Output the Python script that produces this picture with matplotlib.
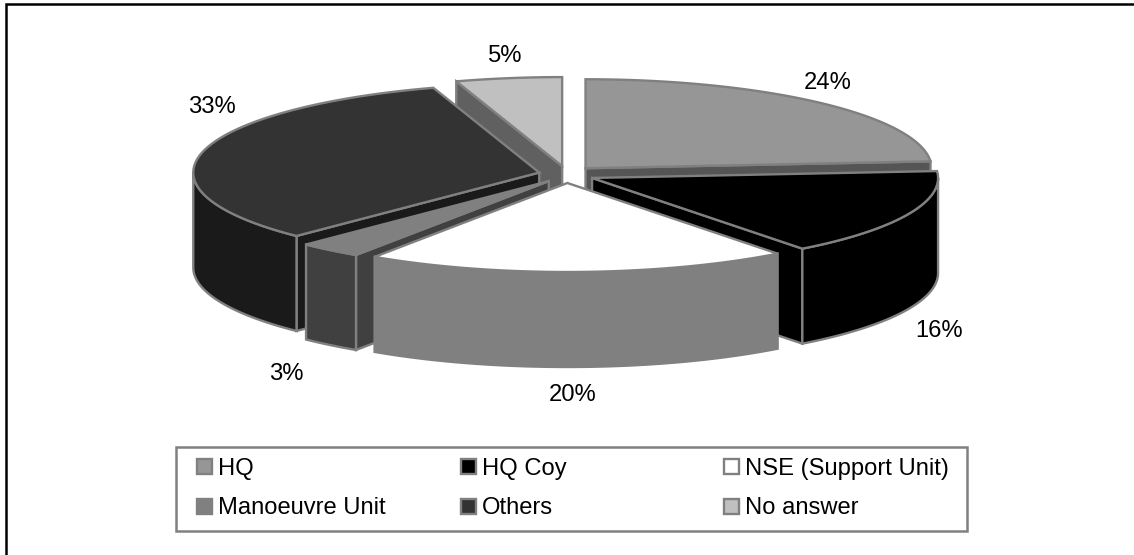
import numpy as np
import matplotlib
matplotlib.use("Agg")
import matplotlib.pyplot as plt
from matplotlib.patches import Polygon, Rectangle

categories = ["HQ", "HQ Coy", "NSE (Support Unit)", "Manoeuvre Unit", "Others", "No answer"]
values = [24, 16, 20, 3, 33, 5]
labels = ["24%", "16%", "20%", "3%", "33%", "5%"]
top_colors = ["#969696", "#000000", "#ffffff", "#808080", "#333333", "#c0c0c0"]
side_colors = ["#555555", "#000000", "#808080", "#404040", "#1a1a1a", "#606060"]
edge = "#808080"
draw_order = [5, 0, 4, 1, 3, 2]
label_pos = [(828, 83), (939, 331), (573, 395), (286, 374), (212, 107), (505, 56)]
legend_slots = [(196, 466), (460, 466), (723, 466), (196, 506), (460, 506), (723, 506)]

CX, CY, RX, RY, DEPTH, EX, EY = 566.5, 174.5, 346, 89, 95, 28, 8.5

plt.rcParams["font.family"] = ["Liberation Sans", "DejaVu Sans"]
fig = plt.figure(figsize=(11.34, 5.55), dpi=100)
ax = fig.add_axes([0, 0, 1, 1])
ax.set_xlim(0, 1134)
ax.set_ylim(555, 0)
ax.axis("off")

# the frame shows only on the left and top sides of the picture
ax.plot([6, 6, 1134], [555, 4, 4], color="black", lw=1.8, solid_joinstyle="miter", zorder=0)

total = sum(values)
edges = np.concatenate([[0], np.cumsum(values)]) / total * 2 * np.pi
z = 1


def point(ox, oy, t):
    return ox + RX * np.sin(t), oy - RY * np.cos(t)


def poly(pts, fc, z, ec=edge):
    ax.add_patch(Polygon(pts, closed=True, fc=fc, ec=ec, lw=1.7, joinstyle="miter", zorder=z))


for i in draw_order:
    a, b = edges[i], edges[i + 1]
    mid = (a + b) / 2
    ox, oy = CX + EX * np.sin(mid), CY - EY * np.cos(mid)
    # cut faces seen from the front
    for t, show in ((a, np.sin(a) < -1e-6), (b, np.sin(b) > 1e-6)):
        if show:
            p = point(ox, oy, t)
            poly([(ox, oy), p, (p[0], p[1] + DEPTH), (ox, oy + DEPTH)], side_colors[i], z)
            z += 1
    # outer wall on the front half of the ellipse
    lo, hi = max(a, np.pi / 2), min(b, 3 * np.pi / 2)
    if hi > lo:
        ts = np.linspace(lo, hi, 80)
        xs, ys = point(ox, oy, ts)
        pts = list(zip(xs, ys)) + list(zip(xs[::-1], ys[::-1] + DEPTH))
        poly(pts, side_colors[i], z)
        z += 1
    # top face
    ts = np.linspace(a, b, 120)
    xs, ys = point(ox, oy, ts)
    poly([(ox, oy)] + list(zip(xs, ys)), top_colors[i], z)
    z += 1

for (x, y), s in zip(label_pos, labels):
    ax.text(x, y, s, fontsize=17.1, ha="center", va="center", color="black", zorder=z)

ax.add_patch(Rectangle((175.5, 446.5), 791, 84.5, fc="white", ec=edge, lw=1.8, zorder=z))
z += 1
for (x, y), name, c in zip(legend_slots, categories, top_colors):
    ax.add_patch(Rectangle((x + 1, y - 7.5), 15, 15, fc=c, ec=edge, lw=1.7, zorder=z))
    ax.text(x + 22, y, name, fontsize=17.1, ha="left", va="center_baseline", color="black", zorder=z)

fig.savefig("out.png", dpi=100)
